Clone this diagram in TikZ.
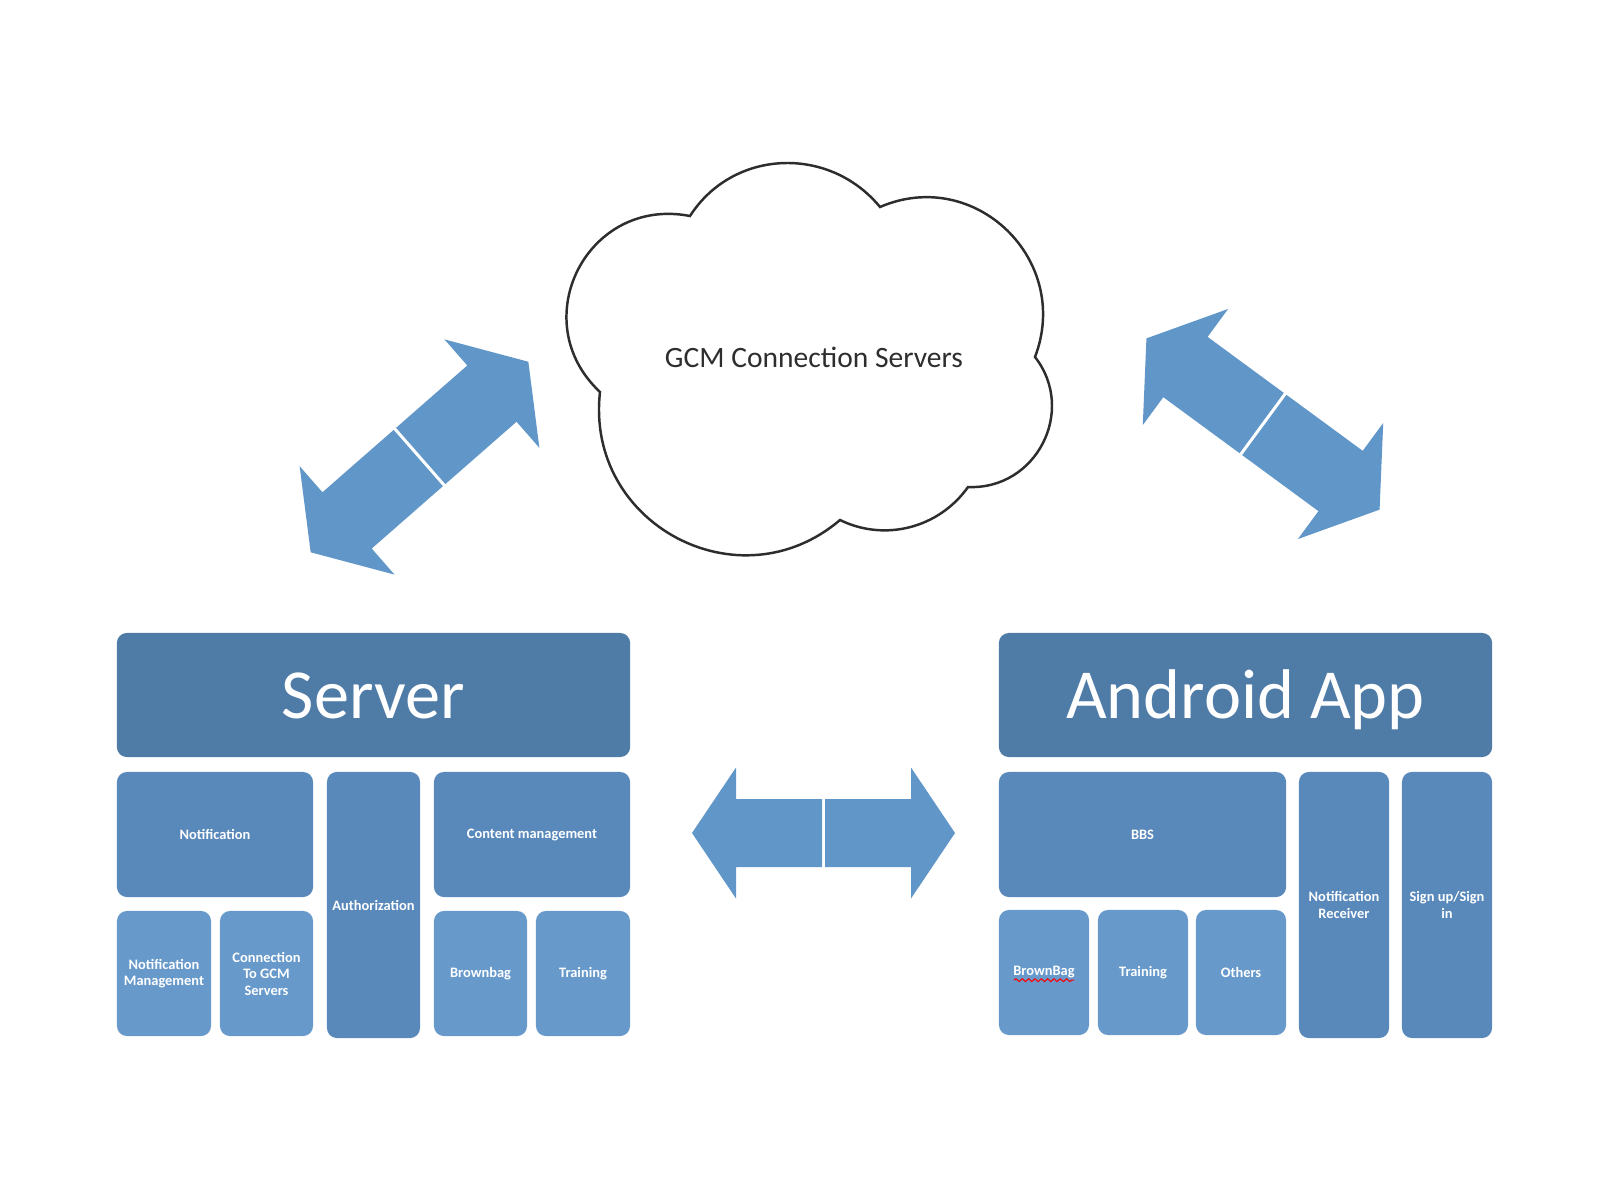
\documentclass[tikz,border=0pt]{standalone}
\usepackage{fontspec}
\setmainfont{Carlito}
\usetikzlibrary{decorations.pathmorphing}
\definecolor{headblue}{RGB}{79,123,167}
\definecolor{midblue}{RGB}{89,137,187}
\definecolor{lowblue}{RGB}{103,153,203}
\definecolor{arrowblue}{RGB}{97,150,201}
\definecolor{cloudgray}{RGB}{45,45,45}
\tikzset{blk/.style = {fill=#1, rounded corners=0.1cm, text=white, align=center, inner sep=0pt, font=\fontsize{4.1}{4.7}\selectfont\bfseries}}
\tikzset{headbox/.style = {blk=headblue, text height=13.4pt, text depth=0pt, font=\fontsize{20}{24}\selectfont}}
\tikzset{sz/.style 2 args = {minimum width=#1, minimum height=#2}}
\tikzset{dblarrow/.pic = {
  \fill[arrowblue] (1.5,-34) -- (87.5,-34) -- (87.5,-65.5) -- (131.5,0) -- (87.5,65.5) -- (87.5,34) -- (1.5,34) -- cycle;
  \fill[arrowblue] (-1.5,-34) -- (-87.5,-34) -- (-87.5,-65.5) -- (-131.5,0) -- (-87.5,65.5) -- (-87.5,34) -- (-1.5,34) -- cycle;
}}

\begin{document}
\begin{tikzpicture}[x=0.01cm, y=-0.01cm]
\fill[white] (0,0) rectangle (1600,1200);
\useasboundingbox (0,0) rectangle (1600,1200);
\draw[cloudgray, line width=0.7pt, fill=white] (600,392) .. controls (524,321) and (587,196) .. (690,216) .. controls (733,149) and (829,145) .. (880,207) .. controls (975,166) and (1072,260) .. (1035,357) .. controls (1077,411) and (1036,490) .. (968,487) .. controls (939,528) and (885,542) .. (840,520) .. controls (739,606) and (585,524) .. cycle;
\node[font=\fontsize{8.4}{10}\selectfont, text=black!82] (gcm) at (814,357) {GCM Connection Servers};
\pic[rotate=41.2, scale=1.1] at (419.5,457) {dblarrow};
\pic[rotate=-36.3, scale=1.1] at (1263,424) {dblarrow};
\pic at (823.5,833) {dblarrow};
\node[headbox, sz={5.13cm}{1.24cm}] (server) at (373.5,695) {Server};
\node[blk=midblue, sz={1.96cm}{1.25cm}] (notif) at (215,834.5) {Notification};
\node[blk=midblue, sz={0.93cm}{2.66cm}] (auth) at (373.5,905) {Authorization};
\node[blk=midblue, sz={1.96cm}{1.25cm}] (content) at (532,834.5) {Content management};
\node[blk=lowblue, sz={0.94cm}{1.25cm}] (notifman) at (164,973.5) {Notification\\Management};
\node[blk=lowblue, sz={0.93cm}{1.25cm}] (gcmconn) at (266.5,973.5) {Connection\\To GCM\\Servers};
\node[blk=lowblue, sz={0.93cm}{1.25cm}] (brownbag) at (480.5,973.5) {Brownbag};
\node[blk=lowblue, sz={0.94cm}{1.25cm}] (training) at (583,973.5) {Training};
\node[headbox, sz={4.93cm}{1.24cm}] (android) at (1245.5,695) {Android App};
\node[blk=midblue, sz={2.87cm}{1.25cm}] (bbs) at (1142.5,834.5) {BBS};
\node[blk=midblue, sz={0.90cm}{2.66cm}] (receiver) at (1344,905) {Notification\\Receiver};
\node[blk=midblue, sz={0.90cm}{2.66cm}] (signin) at (1447,905) {Sign up/Sign\\in};
\node[blk=lowblue, sz={0.90cm}{1.25cm}] (bbBrown) at (1044,972.5) {BrownBag};
\node[blk=lowblue, sz={0.90cm}{1.25cm}] (bbTraining) at (1143,972.5) {Training};
\node[blk=lowblue, sz={0.90cm}{1.25cm}] (bbOthers) at (1241,972.5) {Others};
\draw[red, line width=0.3pt, decorate, decoration={snake, amplitude=0.4pt, segment length=1.8pt}] ([xshift=-0.3cm, yshift=-1.2pt]bbBrown.base) -- ([xshift=0.3cm, yshift=-1.2pt]bbBrown.base);
\end{tikzpicture}
\end{document}
